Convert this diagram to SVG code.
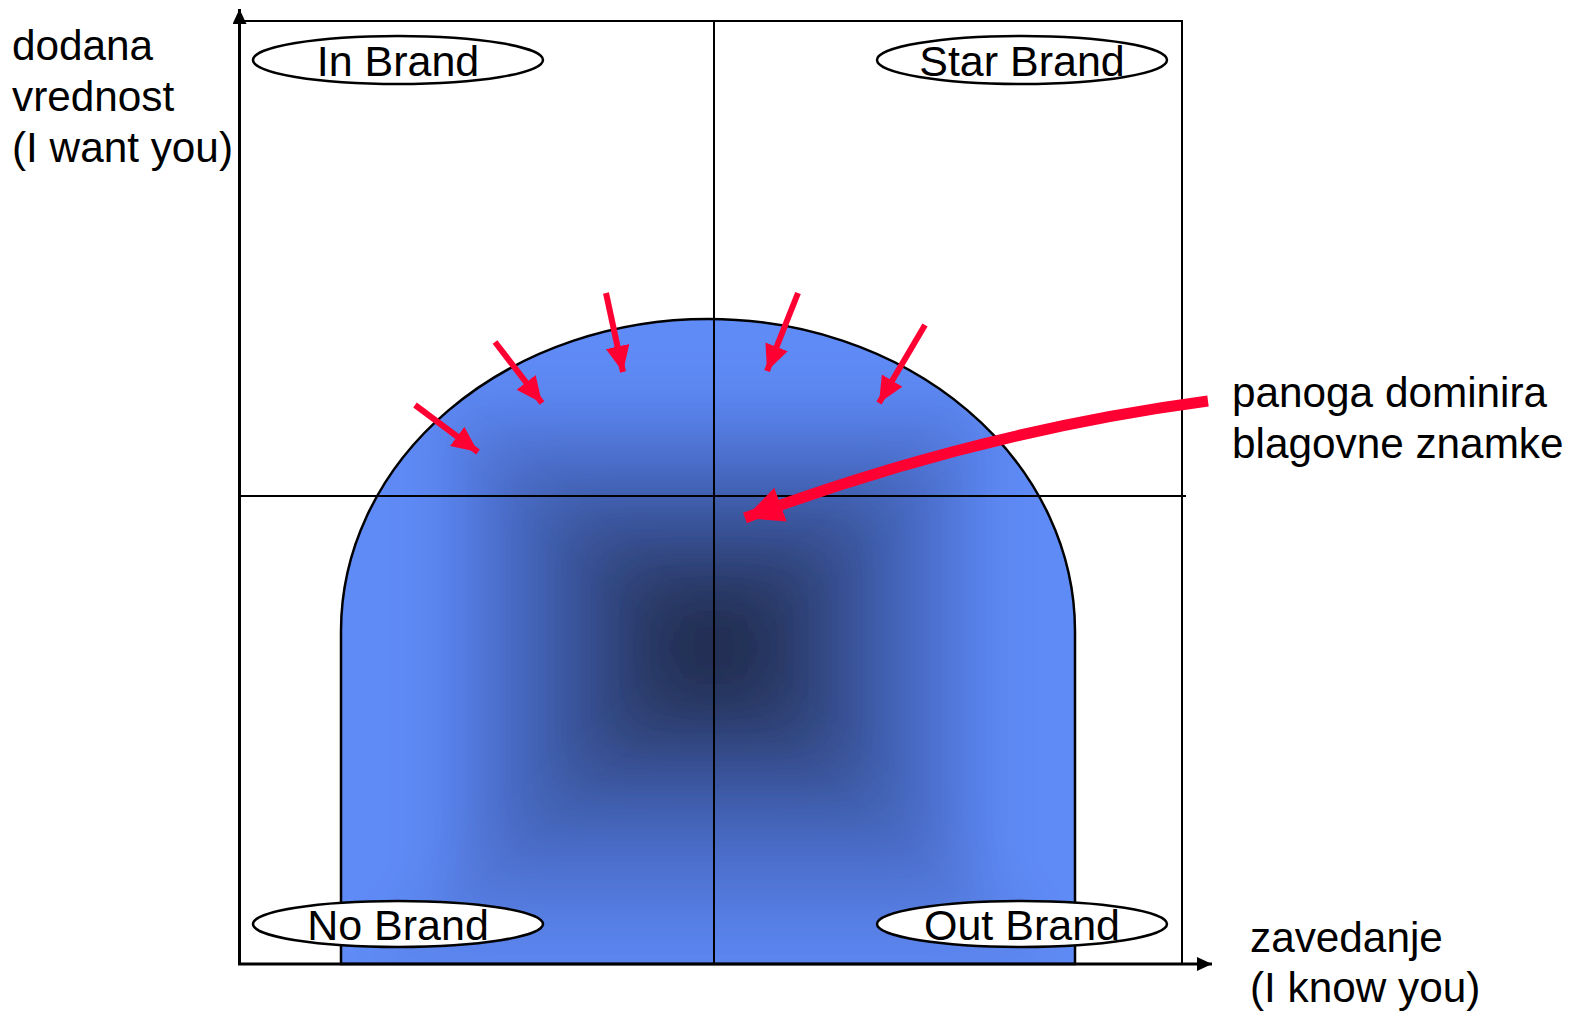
<svg xmlns="http://www.w3.org/2000/svg" width="1571" height="1014" viewBox="0 0 1571 1014">
<style>
.lbl{font-family:"Liberation Sans",Arial,sans-serif;font-size:42.3px;fill:#000}
.brand{font-family:"Liberation Sans",Arial,sans-serif;font-size:43px;fill:#000;text-anchor:middle}
.ell{fill:#fff;stroke:#000;stroke-width:2.5}
.grid{stroke:#000;stroke-width:2;fill:none}
.red{stroke:#ff0033;fill:none}
</style>
<defs>
<clipPath id="blobclip"><path d="M341,964 L341,631 A367,312 0 0 1 1075,631 L1075,964 Z"/></clipPath>
<filter id="soft" filterUnits="userSpaceOnUse" x="150" y="150" width="1130" height="1000"><feGaussianBlur stdDeviation="28"/></filter>
<linearGradient id="gl" gradientUnits="userSpaceOnUse" x1="714" y1="0" x2="341" y2="0">
<stop offset="0" stop-color="#1a2440"/><stop offset="0.2" stop-color="#2b3b69"/><stop offset="0.42" stop-color="#3d5aa6"/><stop offset="0.62" stop-color="#4f74d6"/><stop offset="0.78" stop-color="#5f8bf7"/><stop offset="1" stop-color="#5f8bf7"/>
</linearGradient>
<linearGradient id="gr" gradientUnits="userSpaceOnUse" x1="714" y1="0" x2="1087" y2="0">
<stop offset="0" stop-color="#1a2440"/><stop offset="0.2" stop-color="#2b3b69"/><stop offset="0.42" stop-color="#3d5aa6"/><stop offset="0.62" stop-color="#4f74d6"/><stop offset="0.78" stop-color="#5f8bf7"/><stop offset="1" stop-color="#5f8bf7"/>
</linearGradient>
<linearGradient id="gt" gradientUnits="userSpaceOnUse" x1="0" y1="646" x2="0" y2="319">
<stop offset="0" stop-color="#1a2440"/><stop offset="0.2" stop-color="#2b3b69"/><stop offset="0.42" stop-color="#3d5aa6"/><stop offset="0.62" stop-color="#4f74d6"/><stop offset="0.8" stop-color="#5f8bf7"/><stop offset="1" stop-color="#5f8bf7"/>
</linearGradient>
<linearGradient id="gb" gradientUnits="userSpaceOnUse" x1="0" y1="646" x2="0" y2="991">
<stop offset="0" stop-color="#1a2440"/><stop offset="0.2" stop-color="#2b3b69"/><stop offset="0.42" stop-color="#3d5aa6"/><stop offset="0.65" stop-color="#4e72d2"/><stop offset="0.85" stop-color="#5a83ea"/><stop offset="1" stop-color="#5f8bf7"/>
</linearGradient>
<marker id="ah" markerUnits="userSpaceOnUse" markerWidth="28" markerHeight="24" refX="26" refY="12" orient="auto">
<path d="M0,0 L26,12 L0,24 Z" fill="#ff0033"/>
</marker>
<marker id="ahb" markerUnits="userSpaceOnUse" markerWidth="40" markerHeight="36" refX="38" refY="18" orient="auto">
<path d="M0,0 L38,18 L0,36 Z" fill="#ff0033"/>
</marker>
<marker id="ak" markerUnits="userSpaceOnUse" markerWidth="16" markerHeight="14" refX="15" refY="7" orient="auto">
<path d="M0,0 L15,7 L0,14 Z" fill="#000"/>
</marker>
</defs>
<g id="blob">
<g clip-path="url(#blobclip)">
<g filter="url(#soft)">
<polygon points="714,646 193,188 193,1104" fill="url(#gl)"/>
<polygon points="714,646 1235,188 1235,1104" fill="url(#gr)"/>
<polygon points="714,646 193,188 1235,188" fill="url(#gt)"/>
<polygon points="714,646 193,1104 1235,1104" fill="url(#gb)"/>
</g>
</g>
<path d="M341,964 L341,631 A367,312 0 0 1 1075,631 L1075,964 Z" fill="none" stroke="#000" stroke-width="2.5"/>
</g>
<g id="connectors">
<line x1="239.5" y1="964" x2="239.5" y2="9" stroke="#000" stroke-width="3" marker-end="url(#ak)"/>
<line x1="238" y1="964" x2="1212" y2="964" stroke="#000" stroke-width="3" marker-end="url(#ak)"/>
<polyline class="grid" points="239,21 1182,21 1182,964"/>
<line class="grid" x1="714" y1="21" x2="714" y2="964"/>
<line class="grid" x1="239" y1="496" x2="1186" y2="496"/>
<line class="red" stroke-width="6" x1="415" y1="405" x2="478" y2="452" marker-end="url(#ah)"/>
<line class="red" stroke-width="6" x1="495" y1="342" x2="542" y2="403" marker-end="url(#ah)"/>
<line class="red" stroke-width="6" x1="606" y1="293" x2="623" y2="372" marker-end="url(#ah)"/>
<line class="red" stroke-width="6" x1="798" y1="293" x2="767" y2="371" marker-end="url(#ah)"/>
<line class="red" stroke-width="6" x1="925" y1="325" x2="879" y2="403" marker-end="url(#ah)"/>
<path class="red" stroke-width="11" d="M1208,401 Q975,432 745,518" marker-end="url(#ahb)"/>
</g>
<g id="in-brand"><ellipse class="ell" cx="398" cy="60" rx="145" ry="24"/><text class="brand" x="398" y="76">In Brand</text></g>
<g id="star-brand"><ellipse class="ell" cx="1022" cy="60" rx="145" ry="24"/><text class="brand" x="1022" y="76">Star Brand</text></g>
<g id="no-brand"><ellipse class="ell" cx="398" cy="924" rx="145" ry="23"/><text class="brand" x="398" y="940">No Brand</text></g>
<g id="out-brand"><ellipse class="ell" cx="1022" cy="924" rx="145" ry="23"/><text class="brand" x="1022" y="940">Out Brand</text></g>
<g id="y-label"><text class="lbl" x="12" y="60">dodana</text><text class="lbl" x="12" y="111">vrednost</text><text class="lbl" x="12" y="162">(I want you)</text></g>
<g id="dominance-label"><text class="lbl" x="1232" y="407">panoga dominira</text><text class="lbl" x="1232" y="458">blagovne znamke</text></g>
<g id="x-label"><text class="lbl" x="1250" y="952">zavedanje</text><text class="lbl" x="1250" y="1002">(I know you)</text></g>
</svg>
